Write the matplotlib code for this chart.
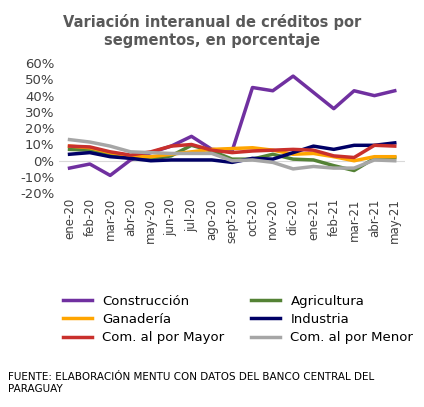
import matplotlib.pyplot as plt
import numpy as np

months = ["ene-20","feb-20","mar-20","abr-20","may-20","jun-20","jul-20","ago-20","sept-20","oct-20","nov-20","dic-20","ene-21","feb-21","mar-21","abr-21","may-21"]
construccion = [-4.5,-2,-9,0.5,5,9,15,7,6,45,43,52,42,32,43,40,43]
agricultura = [7,6.5,4,1.5,1,3,9.5,6,1,1,4,1,0.5,-3,-6,1.5,2]
ganaderia = [9,8,5,3,2.5,4,5.5,7,7.5,8,6.5,4,4.5,2.5,0,2.5,2.5]
industria = [4,5,2.5,1.5,0,0.5,0.5,0.5,-1,1.5,1,5,9,7,9.5,9.5,11]
mayor = [9,8.5,5.5,3.5,5.5,9,10,6.5,5,6,6.5,7,6.5,3,2,9.5,9]
menor = [13,11.5,9,5.5,5,4.5,4.5,4.5,0,0.5,-1,-5,-3.5,-4.5,-4.5,0.5,0]

series = [("Construcción",construccion,"#7030a0"),("Agricultura",agricultura,"#548235"),
          ("Ganadería",ganaderia,"#ffa500"),("Industria",industria,"#000066"),
          ("Com. al por Mayor",mayor,"#c9302c"),("Com. al por Menor",menor,"#a6a6a6")]

fig = plt.figure(figsize=(4.24,4.07), dpi=100)
ax = fig.add_axes([0.14, 0.525, 0.815, 0.32])
x = np.arange(len(months))
lines = {}
for name, v, c in series:
    lines[name], = ax.plot(x, v, color=c, lw=2.5, label=name)
ax.set_ylim(-20,60)
ax.set_yticks(range(-20,61,10))
ax.set_yticklabels([f"{t}%" for t in range(-20,61,10)], fontsize=9.5, color="#404040")
ax.set_xticks(x)
ax.set_xticklabels(months, rotation=90, fontsize=8.5, color="#404040")
ax.set_xlim(-0.5, len(months)-0.5)
for s in ax.spines.values():
    s.set_visible(False)
ax.axhline(0, color="#d9d9d9", lw=0.8, zorder=0)
ax.tick_params(length=0)
fig.text(0.5, 0.965, "Variación interanual de créditos por\nsegmentos, en porcentaje", ha="center", va="top",
         fontsize=10.5, fontweight="bold", color="#595959")
order = ["Construcción","Ganadería","Com. al por Mayor","Agricultura","Industria","Com. al por Menor"]
fig.legend([lines[n] for n in order], order, loc="upper left", bbox_to_anchor=(0.12, 0.305), ncol=2,
           frameon=False, fontsize=9.5, handlelength=2.2, columnspacing=2.0, labelspacing=0.4)
fig.text(0.02, 0.085, "FUENTE: ELABORACIÓN MENTU CON DATOS DEL BANCO CENTRAL DEL\nPARAGUAY",
         fontsize=7.5, color="#000000", va="top")
fig.savefig("out.png", dpi=100)
